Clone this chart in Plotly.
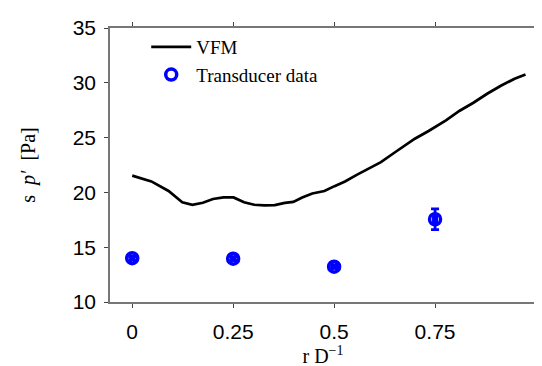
import plotly.graph_objects as go

# VFM curve
vfm_x = [0.0, 0.0475, 0.09, 0.124, 0.149, 0.175, 0.2, 0.226, 0.251, 0.277, 0.302, 0.327,
         0.353, 0.378, 0.399, 0.421, 0.446, 0.476, 0.501, 0.527, 0.556, 0.59, 0.616, 0.65,
         0.675, 0.7, 0.734, 0.777, 0.811, 0.845, 0.879, 0.913, 0.947, 0.974]
vfm_y = [21.53, 21.0, 20.13, 19.1, 18.87, 19.05, 19.4, 19.54, 19.54, 19.1, 18.87, 18.81,
         18.84, 19.05, 19.13, 19.54, 19.9, 20.13, 20.57, 21.0, 21.6, 22.27, 22.76, 23.64,
         24.23, 24.9, 25.6, 26.57, 27.45, 28.18, 29.0, 29.73, 30.37, 30.76]

# Transducer data
td_x = [0.0, 0.25, 0.5, 0.75]
td_y = [14.0, 13.95, 13.22, 17.55]
td_yerr = [0.15, 0.15, 0.12, 0.95]
td_xerr = [0.004, 0.004, 0.004, 0.004]

x_ticks = [0, 0.25, 0.5, 0.75]
x_ticklabels = ["0", "0.25", "0.5", "0.75"]
y_ticks = [10, 15, 20, 25, 30, 35]

serif = "Liberation Serif, Times New Roman"

fig = go.Figure()
fig.add_trace(go.Scatter(x=vfm_x, y=vfm_y, mode="lines", name="VFM",
                         line=dict(color="black", width=2.7)))
fig.add_trace(go.Scatter(x=td_x, y=td_y, mode="markers", name="Transducer data",
                         marker=dict(symbol="circle-open", size=11, color="#0000ff",
                                     line=dict(width=3.5, color="#0000ff")),
                         error_y=dict(type="data", array=td_yerr, color="#0000ff",
                                      thickness=2.8, width=4),
                         error_x=dict(type="data", array=td_xerr, color="#0000ff",
                                      thickness=2.8, width=4)))

axis_common = dict(showline=True, linecolor="#777777", linewidth=1.5, mirror="ticks",
                   ticks="outside", ticklen=4, tickcolor="#444444", showgrid=False,
                   zeroline=False,
                   tickfont=dict(family="Liberation Sans, Arial", size=21, color="black"))

fig.update_layout(
    width=542, height=366,
    margin=dict(l=102, r=8, t=10, b=72),
    paper_bgcolor="white", plot_bgcolor="white",
    showlegend=True,
    legend=dict(x=0.085, y=1.0, xanchor="left", yanchor="top",
                bgcolor="rgba(0,0,0,0)",
                font=dict(family=serif, size=19, color="black"),
                tracegroupgap=0, itemwidth=40),
    xaxis=dict(range=[-0.055, 1.0], tickvals=x_ticks, ticktext=x_ticklabels,
               ticklabelstandoff=6,
               title=dict(text="r D<sup>−1</sup>", standoff=2,
                          font=dict(family=serif, size=20, color="black")),
               **axis_common),
    yaxis=dict(range=[10, 35], tickvals=y_ticks, ticklabelstandoff=4,
               title=dict(text="s  <i>p′</i>  [Pa]", standoff=32,
                          font=dict(family=serif, size=20, color="black")),
               **axis_common),
)

fig.write_html("out.html")
